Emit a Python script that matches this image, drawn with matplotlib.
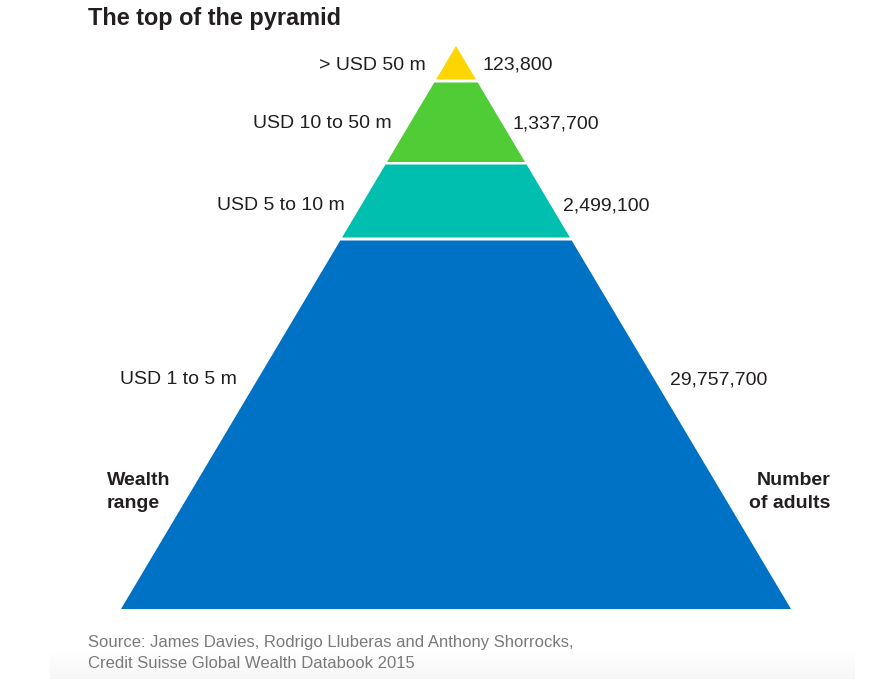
import numpy as np
import matplotlib.pyplot as plt
from matplotlib.patches import Polygon

# Data
wealth_ranges = ['> USD 50 m', 'USD 10 to 50 m', 'USD 5 to 10 m', 'USD 1 to 5 m']
adults = [123800, 1337700, 2499100, 29757700]
colors = ['#FDD500', '#4FCC36', '#00BFAF', '#0072C6']

# Layout (pixel coordinates, y grows downward)
apex_x, apex_y = 456, 46
base_y, base_left, base_right = 609, 121, 791
layer_top = [46, 82.5, 164.5, 240.5]
layer_bottom = [79.5, 162, 237.5, 609]
label_y = [65, 124, 206, 380]

plt.rcParams['font.family'] = ['Liberation Sans', 'DejaVu Sans']

fig = plt.figure(figsize=(8.93, 6.79), dpi=100)
ax = fig.add_axes([0, 0, 1, 1])


def edge_x(y, side):
    t = (y - apex_y) / (base_y - apex_y)
    end = base_left if side == 'left' else base_right
    return apex_x + t * (end - apex_x)


# faint grey fade at the bottom of the page (white above, light grey below)
fade = np.linspace(0, 1, 30).reshape(-1, 1)
ax.imshow(fade, extent=(50, 855, 679, 650), origin='upper', cmap='Greys',
          vmin=0, vmax=14, aspect='auto', interpolation='bilinear', zorder=0)
ax.set_xlim(0, 893)
ax.set_ylim(679, 0)
ax.axis('off')

for i, (rng, n, col) in enumerate(zip(wealth_ranges, adults, colors)):
    top, bot = layer_top[i], layer_bottom[i]
    pts = [(edge_x(top, 'left'), top), (edge_x(top, 'right'), top),
           (edge_x(bot, 'right'), bot), (edge_x(bot, 'left'), bot)]
    ax.add_patch(Polygon(pts, closed=True, facecolor=col, edgecolor='none'))

# labels
label_left_right = [426, 392, 345, 237]
label_right_left = [482, 513, 563, 670]
for i, (rng, n) in enumerate(zip(wealth_ranges, adults)):
    ax.text(label_left_right[i], label_y[i], rng, ha='right', va='center',
            fontsize=14, color='#231F20')
    ax.text(label_right_left[i], label_y[i], f'{n:,}', ha='left', va='center',
            fontsize=14, color='#231F20')

ax.text(107, 492, 'Wealth\nrange', ha='left', va='center', fontsize=14,
        fontweight='bold', color='#231F20', linespacing=1.4)
ax.text(830, 492, 'Number\nof adults', ha='right', va='center', fontsize=14,
        fontweight='bold', color='#231F20', linespacing=1.4)

ax.text(88, 18, 'The top of the pyramid', ha='left', va='center',
        fontsize=16.9, fontweight='bold', color='#231F20')

ax.text(88, 653, 'Source: James Davies, Rodrigo Lluberas and Anthony Shorrocks,\n'
        'Credit Suisse Global Wealth Databook 2015', ha='left', va='center',
        fontsize=12, color='#7A7A7A', linespacing=1.45)

fig.savefig('out.png', dpi=100)
